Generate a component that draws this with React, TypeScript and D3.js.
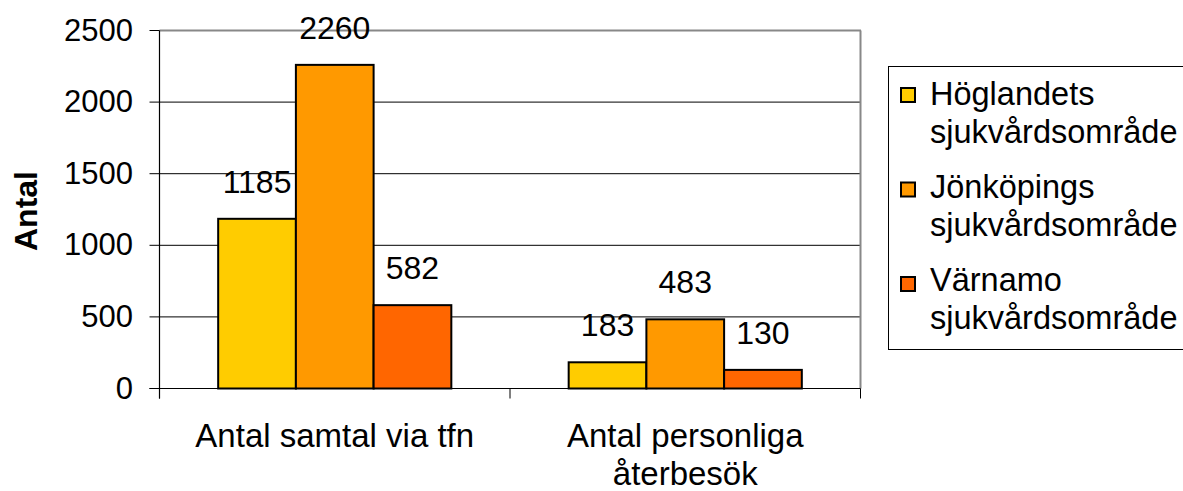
import React from "react";
import * as d3 from "d3";

const categories = ["Antal samtal via tfn", "Antal personliga\nåterbesök"];
const seriesNames = ["Höglandets sjukvårdsområde", "Jönköpings sjukvårdsområde", "Värnamo sjukvårdsområde"];
const legendLines = [["Höglandets", "sjukvårdsområde"], ["Jönköpings", "sjukvårdsområde"], ["Värnamo", "sjukvårdsområde"]];
const hoglandet = [1185, 183];
const jonkoping = [2260, 483];
const varnamo = [582, 130];
const yTicks = [0, 500, 1000, 1500, 2000, 2500];
const colors = ["#FFCC00", "#FF9900", "#FF6600"];

const W = 1183, H = 491;
const L = 159.5, R = 860.5, T = 30.5, B = 388.5;
const FONT = "Arial, 'Liberation Sans', sans-serif";

export default function App() {
  const series = [hoglandet, jonkoping, varnamo];
  const y = d3.scaleLinear().domain([0, 2500]).range([B, T]);
  const x0 = d3.scaleBand<string>().domain(categories).range([L, R]).paddingInner(0).paddingOuter(0);
  const x1 = d3.scaleBand<string>().domain(seriesNames).range([0, x0.bandwidth()]).paddingInner(0).paddingOuter(0.755);
  const bw = x1.bandwidth();

  return (
    <svg width={W} height={H} style={{ position: "absolute", left: 0, top: 0, background: "#fff" }} fontFamily={FONT}>
      <rect x={0} y={0} width={W} height={H} fill="#fff" />
      {yTicks.slice(1, -1).map((t) => (
        <line key={t} x1={L} x2={R} y1={y(t)} y2={y(t)} stroke="#000" strokeWidth={1} />
      ))}
      <line x1={L} x2={R + 0.5} y1={T} y2={T} stroke="#888" strokeWidth={2} />
      <line x1={R} x2={R} y1={T} y2={B} stroke="#888" strokeWidth={2} />
      {categories.map((c, ci) =>
        series.map((s, si) => (
          <text key={`l${ci}-${si}`} x={x0(c)! + x1(seriesNames[si])! + bw / 2} y={y(s[ci]) - 26} textAnchor="middle" fontSize={32} fill="#000">
            {s[ci]}
          </text>
        ))
      )}
      {categories.map((c, ci) =>
        series.map((s, si) => (
          <rect key={`b${ci}-${si}`} x={x0(c)! + x1(seriesNames[si])!} y={y(s[ci])} width={bw} height={B - y(s[ci])} fill={colors[si]} stroke="#000" strokeWidth={2} />
        ))
      )}
      <line x1={L} x2={L} y1={T} y2={B + 10} stroke="#000" strokeWidth={1.2} />
      <line x1={L - 10} x2={R} y1={B} y2={B} stroke="#000" strokeWidth={1.2} />
      {yTicks.map((t) => (
        <g key={t}>
          <line x1={L - 10} x2={L} y1={y(t)} y2={y(t)} stroke="#000" strokeWidth={1} />
          <text x={133} y={y(t) + 10} textAnchor="end" fontSize={31} fill="#000">{t}</text>
        </g>
      ))}
      {[L, L + x0.bandwidth(), R].map((xv, i) => (
        <line key={i} x1={xv} x2={xv} y1={B} y2={B + 10} stroke="#000" strokeWidth={1} />
      ))}
      {categories.map((c) => {
        const lines = c.split("\n");
        const cx = x0(c)! + x0.bandwidth() / 2;
        return (
          <text key={c} textAnchor="middle" fontSize={33} fill="#000">
            {lines.map((ln, i) => (
              <tspan key={i} x={cx} y={447 + i * 38}>{ln}</tspan>
            ))}
          </text>
        );
      })}
      <text transform={`translate(37,211) rotate(-90)`} textAnchor="middle" fontSize={32} fontWeight="bold" fill="#000">Antal</text>
      <rect x={888.5} y={66.5} width={310} height={283} fill="#fff" stroke="#000" strokeWidth={1} />
      {seriesNames.map((n, i) => (
        <g key={n}>
          <rect x={901} y={88 + i * 94.5} width={14} height={14} fill={colors[i]} stroke="#000" strokeWidth={2} />
          {legendLines[i].map((ln, j) => (
            <text key={j} x={930} y={105 + i * 93 + j * 37.5} fontSize={32.5} fill="#000">{ln}</text>
          ))}
        </g>
      ))}
    </svg>
  );
}
